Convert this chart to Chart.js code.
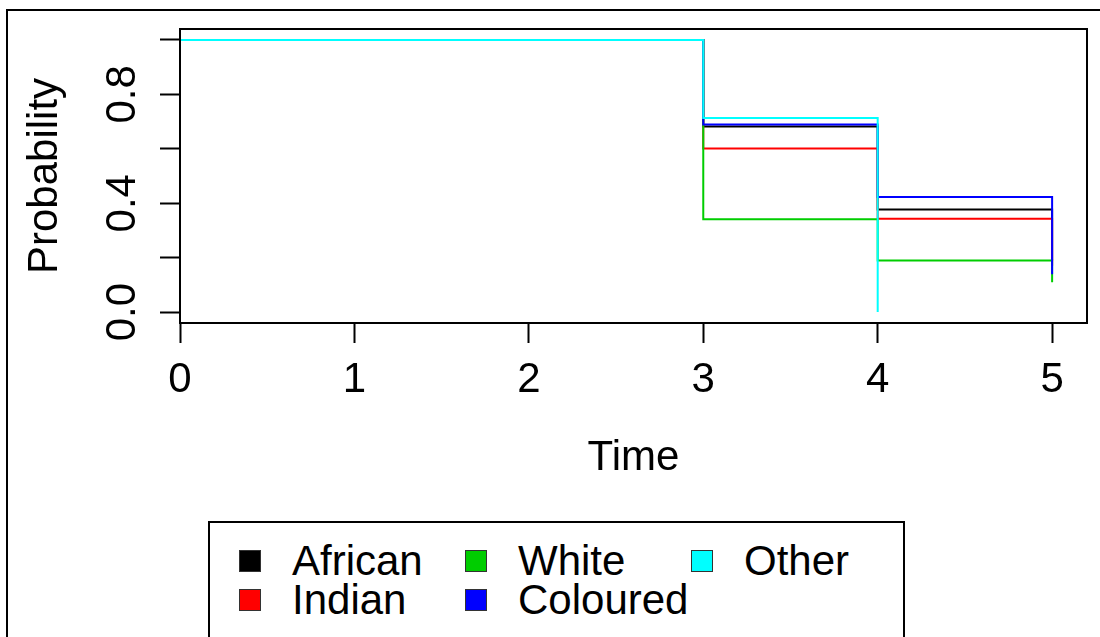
<!DOCTYPE html>
<html>
<head>
<meta charset="utf-8">
<script src="https://cdn.jsdelivr.net/npm/chart.js@4"></script>
<style>
  body { margin: 0; background: #fff; overflow: hidden; }
  #wrap { position: relative; width: 1100px; height: 637px; }
  #frame { position: absolute; left: 6px; top: 9px; width: 1200px; height: 1000px; border: 2px solid #000; }
  #plot { position: absolute; left: 0; top: 0; }
  #legend {
    position: absolute; left: 208px; top: 521px; width: 697px; height: 200px;
    border: 2px solid #000; background: #fff;
    padding: 18px 0 0 29px; box-sizing: border-box;
    display: grid; grid-template-rows: repeat(2, 39px); grid-auto-flow: column; grid-auto-columns: 226px;
    font-family: "Liberation Sans", Arial, sans-serif; font-size: 42px; line-height: 39px;
  }
  #legend .item { display: flex; align-items: center; white-space: nowrap; }
  #legend .box { width: 20px; height: 20px; border: 1px solid #333; margin-right: 31px; flex: none; }
</style>
</head>
<body>
<div id="wrap">
  <div id="frame"></div>
  <canvas id="plot" width="1100" height="637"></canvas>
  <div id="legend"></div>
</div>
<script>
// survival curves by group, step points at each event time
var groups = ['African', 'Indian', 'White', 'Coloured', 'Other'];
var colours = ['#000000', '#FF0000', '#00CD00', '#0000FF', '#00FFFF'];
var times = [0, 3, 4, 5];
var african = [1, 0.682, 0.377, 0.19];
var indian = [1, 0.601, 0.343, 0.17];
var white = [1, 0.341, 0.190, 0.110];
var coloured = [1, 0.689, 0.423, 0.139];
var other = [1, 0.713, 0];

var xTicks = [0, 1, 2, 3, 4, 5];
var yTicks = [0, 0.2, 0.4, 0.6, 0.8, 1.0];
var yTickLabels = ['0.0', '', '0.4', '', '0.8', ''];

var FONT = '"Liberation Sans", Arial, sans-serif';
Chart.defaults.font.family = FONT;
Chart.defaults.color = '#000';

function toPoints(vals) {
    return vals.map(function (v, i) { return { x: times[i], y: v }; });
}

var series = [african, indian, white, coloured, other];
var datasets = series.map(function (vals, i) {
    return {
        label: groups[i],
        data: toPoints(vals),
        borderColor: colours[i],
        backgroundColor: colours[i],
        borderWidth: 2,
        stepped: 'before',
        pointRadius: 0,
        fill: false,
        order: series.length - i // later groups are painted on top
    };
});

// plot box + rotated y tick labels
var boxPlugin = {
    id: 'rbox',
    afterDraw: function (chart) {
        var ctx = chart.ctx, a = chart.chartArea;
        ctx.save();
        ctx.strokeStyle = '#000';
        ctx.lineWidth = 2;
        ctx.strokeRect(a.left, a.top, a.right - a.left, a.bottom - a.top);

        var ys = chart.scales.y;
        ctx.fillStyle = '#000';
        ctx.font = '42px ' + FONT;
        ctx.textAlign = 'center';
        ctx.textBaseline = 'alphabetic';
        yTicks.forEach(function (v, i) {
            if (!yTickLabels[i]) return;
            ctx.save();
            ctx.translate(135, ys.getPixelForValue(v));
            ctx.rotate(-Math.PI / 2);
            ctx.fillText(yTickLabels[i], 0, 0);
            ctx.restore();
        });
        ctx.restore();
    }
};

var chart = new Chart(document.getElementById('plot'), {
    type: 'line',
    data: { datasets: datasets },
    plugins: [boxPlugin],
    options: {
        responsive: false,
        animation: false,
        layout: { padding: { left: 0, top: 29, right: 13, bottom: 137 } },
        plugins: { legend: { display: false }, tooltip: { enabled: false } },
        scales: {
            x: {
                type: 'linear',
                min: 0,
                max: 5.2,
                afterBuildTicks: function (s) { s.ticks = xTicks.map(function (v) { return { value: v }; }); },
                afterFit: function (s) { s.height = 177; },
                border: { display: false },
                grid: { drawOnChartArea: false, drawTicks: true, tickLength: 20, tickColor: '#000', tickWidth: 2 },
                ticks: { font: { size: 42 }, padding: 12, maxRotation: 0, autoSkip: false,
                         callback: function (v) { return String(v); } },
                title: { display: true, text: 'Time', font: { size: 42 }, padding: { top: 16, bottom: 16 } }
            },
            y: {
                type: 'linear',
                min: -0.04,
                max: 1.04,
                afterBuildTicks: function (s) { s.ticks = yTicks.map(function (v) { return { value: v }; }); },
                afterFit: function (s) { s.width = 180; },
                border: { display: false },
                grid: { drawOnChartArea: false, drawTicks: true, tickLength: 20, tickColor: '#000', tickWidth: 2 },
                ticks: { display: false },
                title: { display: true, text: 'Probability', font: { size: 42 }, padding: { top: 20, bottom: 20 } }
            }
        }
    }
});

// legend in R's column-major layout
var legend = document.getElementById('legend');
chart.data.datasets.forEach(function (ds) {
    var item = document.createElement('div');
    item.className = 'item';
    var box = document.createElement('span');
    box.className = 'box';
    box.style.background = ds.borderColor;
    var txt = document.createElement('span');
    txt.textContent = ds.label;
    item.appendChild(box);
    item.appendChild(txt);
    legend.appendChild(item);
});
</script>
</body>
</html>
